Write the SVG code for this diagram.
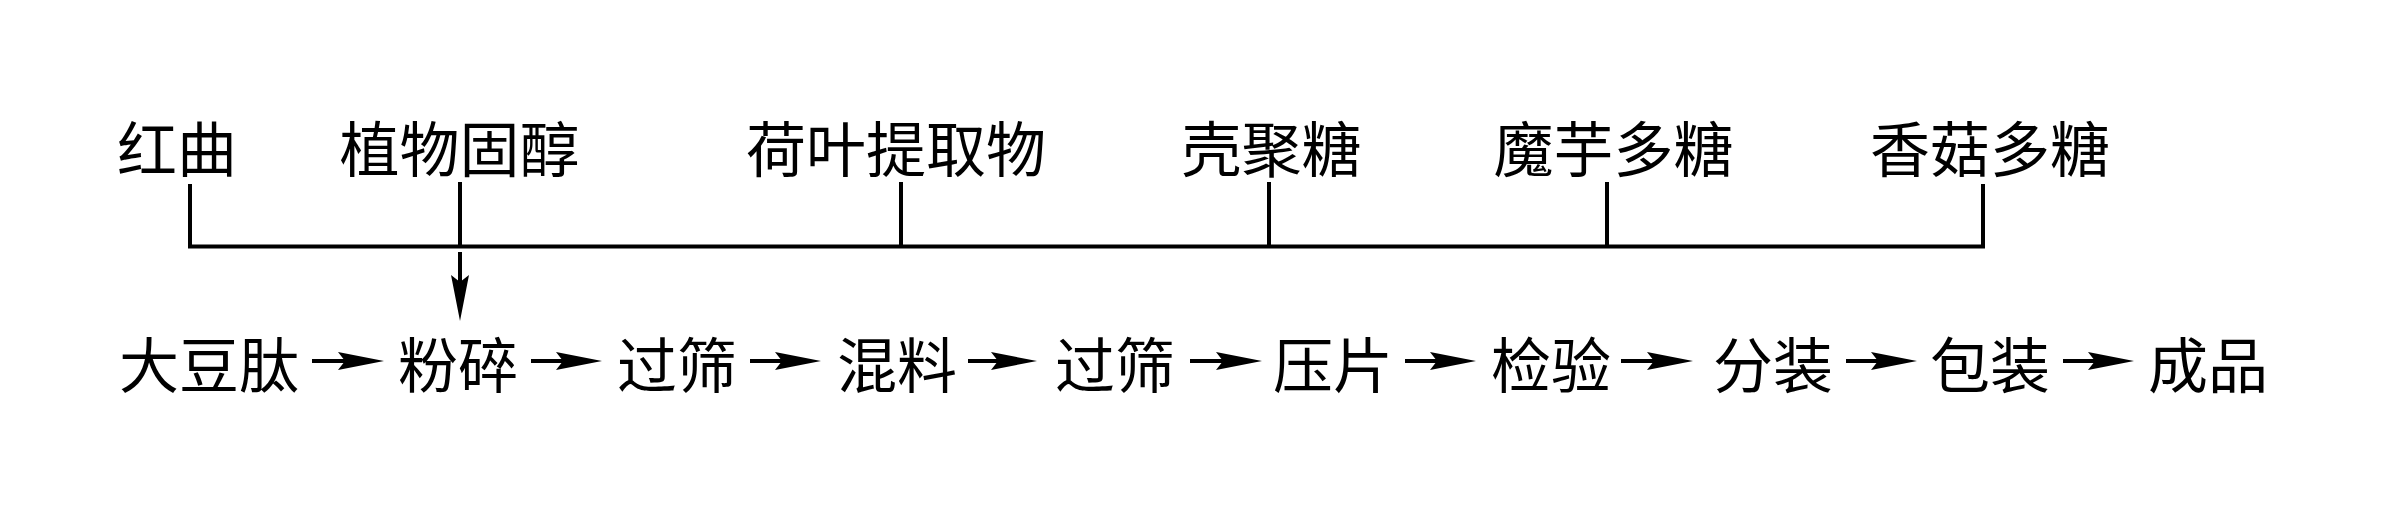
<svg xmlns="http://www.w3.org/2000/svg" width="2383" height="512" viewBox="0 0 2383 512">
<style>
text{font-family:"Noto Sans CJK SC","Noto Sans CJK JP",sans-serif;font-size:60px;fill:#000;text-anchor:middle}
.ln{stroke:#000;stroke-width:4;fill:none;stroke-linecap:butt}
</style>
<defs>
<marker id="ah" viewBox="0 0 46 18" refX="26" refY="9" markerWidth="46" markerHeight="18" markerUnits="userSpaceOnUse" orient="auto">
<path d="M0,0 L46,9 L0,18 L7,9 Z" fill="#000"/>
</marker>
</defs>
<rect width="2383" height="512" fill="#fff"/>
<g id="connectors">
<polyline class="ln" points="190,184 190,246.5 1983,246.5 1983,184"/>
<line class="ln" x1="460" y1="182" x2="460" y2="246.5"/>
<line class="ln" x1="901" y1="182" x2="901" y2="246.5"/>
<line class="ln" x1="1269" y1="182" x2="1269" y2="246.5"/>
<line class="ln" x1="1607" y1="182" x2="1607" y2="246.5"/>
<line class="ln" x1="460" y1="252" x2="460" y2="301" marker-end="url(#ah)"/>
<line class="ln" x1="312" y1="361" x2="364" y2="361" marker-end="url(#ah)"/>
<line class="ln" x1="531" y1="361" x2="582" y2="361" marker-end="url(#ah)"/>
<line class="ln" x1="750" y1="361" x2="801" y2="361" marker-end="url(#ah)"/>
<line class="ln" x1="968" y1="361" x2="1017" y2="361" marker-end="url(#ah)"/>
<line class="ln" x1="1190" y1="361" x2="1242" y2="361" marker-end="url(#ah)"/>
<line class="ln" x1="1405" y1="361" x2="1456" y2="361" marker-end="url(#ah)"/>
<line class="ln" x1="1621" y1="361" x2="1673" y2="361" marker-end="url(#ah)"/>
<line class="ln" x1="1846" y1="361" x2="1897" y2="361" marker-end="url(#ah)"/>
<line class="ln" x1="2063" y1="361" x2="2114" y2="361" marker-end="url(#ah)"/>
</g>
<g id="n-hongqu"><text x="177" y="172">红曲</text></g>
<g id="n-zhiwuguchun"><text x="459.5" y="172">植物固醇</text></g>
<g id="n-heye"><text x="896" y="172">荷叶提取物</text></g>
<g id="n-keju"><text x="1271.5" y="172">壳聚糖</text></g>
<g id="n-moyu"><text x="1613.5" y="172">魔芋多糖</text></g>
<g id="n-xianggu"><text x="1990" y="172">香菇多糖</text></g>
<g id="n-dadoutai"><text x="209" y="388">大豆肽</text></g>
<g id="n-fensui"><text x="458" y="388">粉碎</text></g>
<g id="n-guoshai1"><text x="677" y="388">过筛</text></g>
<g id="n-hunliao"><text x="897" y="388">混料</text></g>
<g id="n-guoshai2"><text x="1115" y="388">过筛</text></g>
<g id="n-yapian"><text x="1333" y="388">压片</text></g>
<g id="n-jianyan"><text x="1551" y="388">检验</text></g>
<g id="n-fenzhuang"><text x="1773" y="388">分装</text></g>
<g id="n-baozhuang"><text x="1990" y="388">包装</text></g>
<g id="n-chengpin"><text x="2208" y="388">成品</text></g>
</svg>
